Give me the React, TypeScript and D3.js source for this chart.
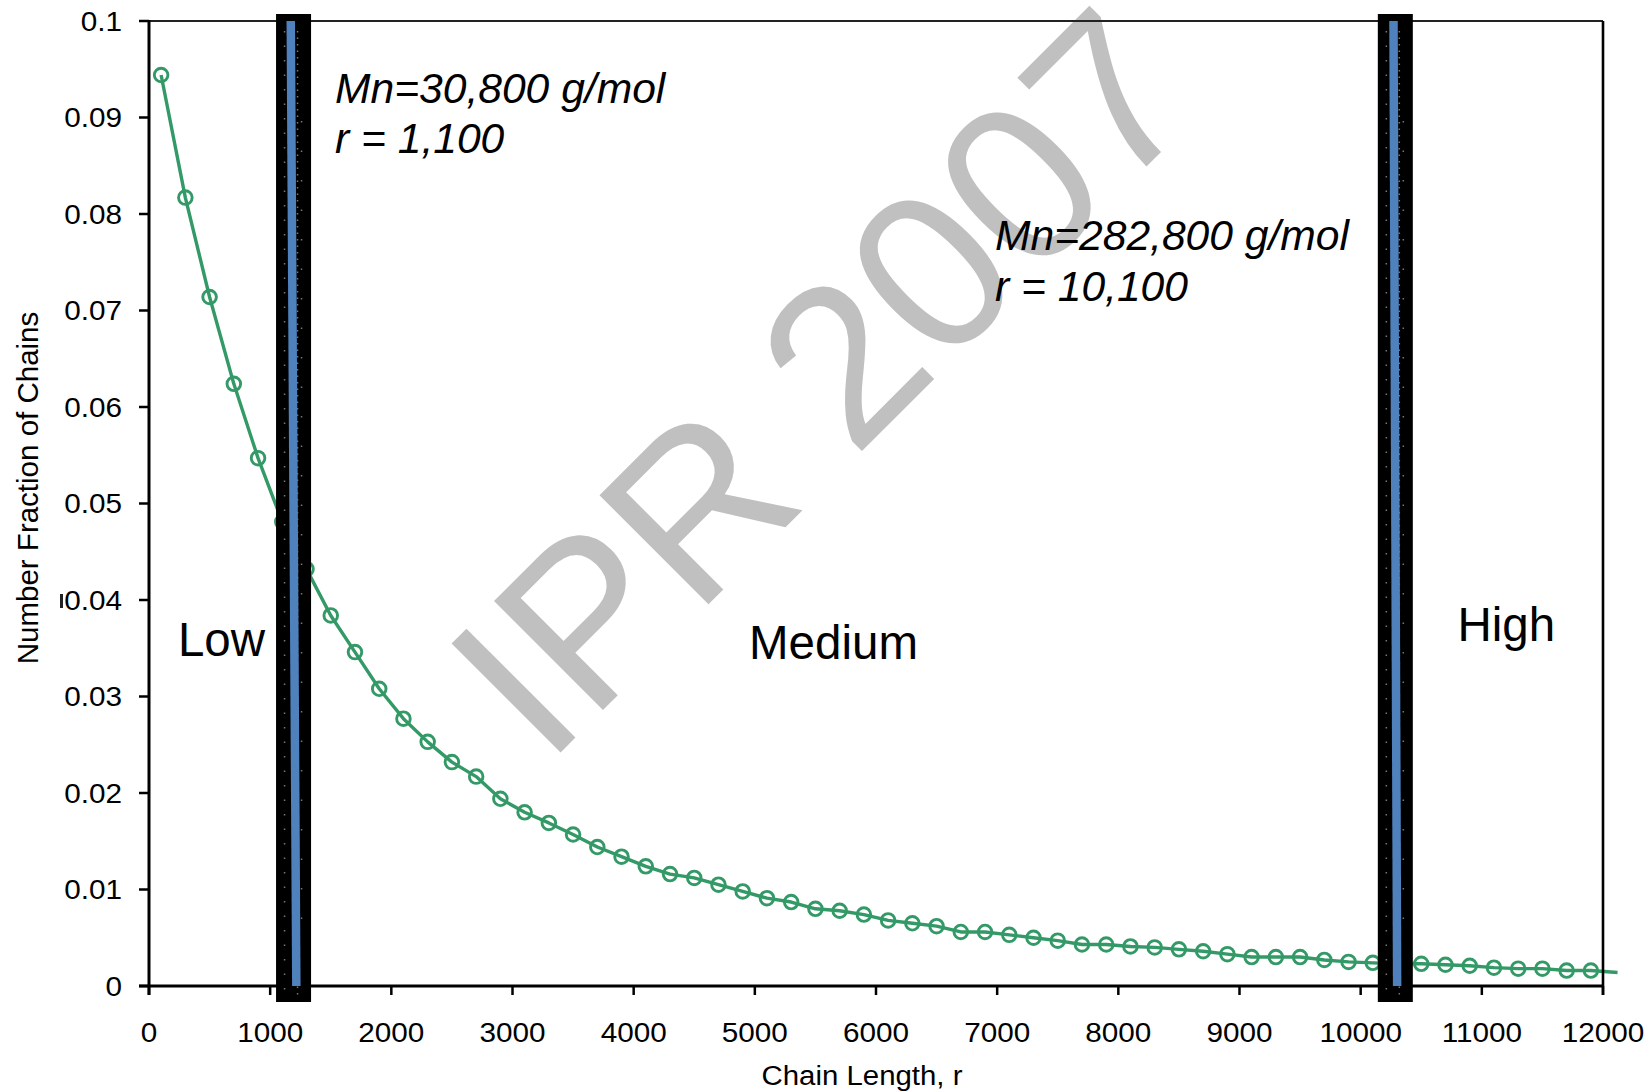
import React from 'react';
import * as d3 from 'd3';

// ---- data ----
const chainLength = [
  100, 300, 500, 700, 900, 1100, 1300, 1500, 1700, 1900,
  2100, 2300, 2500, 2700, 2900, 3100, 3300, 3500, 3700, 3900,
  4100, 4300, 4500, 4700, 4900, 5100, 5300, 5500, 5700, 5900,
  6100, 6300, 6500, 6700, 6900, 7100, 7300, 7500, 7700, 7900,
  8100, 8300, 8500, 8700, 8900, 9100, 9300, 9500, 9700, 9900,
  10100, 10300, 10500, 10700, 10900, 11100, 11300, 11500, 11700, 11900,
];
const numberFraction = [
  0.0944, 0.0817, 0.0714, 0.0624, 0.0547, 0.0481, 0.0432, 0.0384, 0.0346, 0.0308,
  0.0277, 0.0253, 0.0232, 0.0217, 0.0194, 0.0180, 0.0169, 0.0157, 0.0144, 0.0134,
  0.0124, 0.0116, 0.0112, 0.0105, 0.0098, 0.0091, 0.0087, 0.0080, 0.0078, 0.0074,
  0.0068, 0.0065, 0.0062, 0.0056, 0.0056, 0.0053, 0.0050, 0.0047, 0.0043, 0.0043,
  0.0041, 0.0040, 0.0038, 0.0036, 0.0033, 0.0030, 0.0030, 0.0030, 0.0027, 0.0025,
  0.0024, 0.0023, 0.0023, 0.0022, 0.0021, 0.0019, 0.0018, 0.0018, 0.0016, 0.0016,
];
// the line continues a little past the last marker
const lineTailR = [12120];
const lineTailF = [0.0014];

// vertical divider lines (chain length at top and at bottom of the line)
const dividerTopR = [1170, 10271];
const dividerBottomR = [1216, 10301];

const xTickValues = [0, 1000, 2000, 3000, 4000, 5000, 6000, 7000, 8000, 9000, 10000, 11000, 12000];
const yTickValues = [0, 0.01, 0.02, 0.03, 0.04, 0.05, 0.06, 0.07, 0.08, 0.09, 0.1];
const yTickLabels = ['0', '0.01', '0.02', '0.03', '0.04', '0.05', '0.06', '0.07', '0.08', '0.09', '0.1'];

const regionLabels = ['Low', 'Medium', 'High'];
const regionLabelR = [239, 4952, 10799];
const regionLabelF = [0.0342, 0.0339, 0.0358];

const annotationLines = ['Mn=30,800 g/mol', 'r = 1,100', 'Mn=282,800 g/mol', 'r = 10,100'];
const annotationR = [1535, 1535, 6982, 6982];
const annotationF = [0.0915, 0.0863, 0.07627, 0.07098];

const watermarkText = 'IPR 2007';
const watermarkR = 3276;
const watermarkF = 0.0227;

const xTitle = 'Chain Length, r';
const yTitle = 'Number Fraction of Chains';

// ---- styles ----
const W = 1650;
const H = 1092;
const FONT = "'Liberation Sans', Arial, Helvetica, sans-serif";
const GREEN = '#339966';
const BLUE = '#4f81bd';

export default function App() {
  const x = d3.scaleLinear().domain([0, 12000]).range([149, 1603]);
  const y = d3.scaleLinear().domain([0, 0.1]).range([986, 21]);

  const pts = chainLength.map((r, i) => [r, numberFraction[i]] as [number, number]);
  const linePts = pts.concat(lineTailR.map((r, i) => [r, lineTailF[i]] as [number, number]));
  const line = d3.line<[number, number]>().x(d => x(d[0])).y(d => y(d[1]));

  const x0 = x(0), x1 = x(12000), yTop = y(0.1), yBot = y(0);

  return (
    <svg width={W} height={H} style={{ position: 'absolute', left: 0, top: 0, background: '#fff' }}
      fontFamily={FONT}>
      <rect x={0} y={0} width={W} height={H} fill="#fff" />

      {/* data line + markers */}
      <path d={line(linePts) || ''} fill="none" stroke={GREEN} strokeWidth={3.4} strokeLinejoin="round" />
      {pts.map((p, i) => (
        <circle key={i} cx={x(p[0])} cy={y(p[1])} r={6.8} fill="none" stroke={GREEN} strokeWidth={2.9} />
      ))}

      {/* watermark */}
      <text transform={`translate(${x(watermarkR)},${y(watermarkF)}) rotate(-45)`}
        fontSize={224} fill="#c0c0c0">{watermarkText}</text>

      {/* frame */}
      <line x1={x0} x2={x1} y1={yTop} y2={yTop} stroke="#222" strokeWidth={1.8} />
      <line x1={x1} x2={x1} y1={yTop} y2={yBot + 9} stroke="#000" strokeWidth={2.6} />
      <line x1={x0} x2={x0} y1={yTop - 1} y2={yBot + 9} stroke="#000" strokeWidth={3} />
      <line x1={x0 - 10} x2={x1} y1={yBot} y2={yBot} stroke="#000" strokeWidth={3} />

      {/* y ticks */}
      {yTickValues.map((v, i) => (
        <g key={'y' + i}>
          <line x1={x0 - 10} x2={x0} y1={y(v)} y2={y(v)} stroke="#000" strokeWidth={2.5} />
          <text transform={`translate(${x0 - 27},${y(v) + 9.5}) scale(1.1,1)`} textAnchor="end"
            fontSize={27} fill="#000">{yTickLabels[i]}</text>
        </g>
      ))}
      {/* x ticks */}
      {xTickValues.map((v, i) => (
        <g key={'x' + i}>
          <line x1={x(v)} x2={x(v)} y1={yBot} y2={yBot + 9} stroke="#000" strokeWidth={2.5} />
          <text transform={`translate(${x(v)},${yBot + 55.5}) scale(1.1,1)`} textAnchor="middle"
            fontSize={27} fill="#000">{String(v)}</text>
        </g>
      ))}

      {/* small artifact next to 0.04 */}
      <rect x={60} y={y(0.04) - 6} width={3} height={14} fill="#222" />

      {/* dividers */}
      {dividerTopR.map((rt, i) => {
        const rb = dividerBottomR[i];
        const cx = (x(rt) + x(rb)) / 2;
        return (
          <g key={'d' + i}>
            <rect x={cx - 17.5} y={yTop - 7} width={35} height={yBot - yTop + 23} fill="#000" />
            <line x1={cx - 9} x2={cx - 9} y1={yTop + 10} y2={yBot + 12} stroke="#777" strokeWidth={1.5}
              strokeDasharray="1.5 13" />
            <line x1={cx + 4} x2={cx + 4} y1={yTop + 10} y2={yBot + 12} stroke="#777" strokeWidth={1.5}
              strokeDasharray="1.5 5" />
            <line x1={cx + 8} x2={cx + 8} y1={yTop + 100} y2={yBot - 50} stroke="#777" strokeWidth={1.5}
              strokeDasharray="1.5 28" />
            <line x1={x(rt)} x2={x(rb)} y1={y(0.1)} y2={y(0)} stroke={BLUE} strokeWidth={8.5} />
          </g>
        );
      })}

      {/* region labels */}
      {regionLabels.map((t, i) => (
        <text key={'r' + i} x={x(regionLabelR[i])} y={y(regionLabelF[i])} fontSize={47.5} fill="#000">{t}</text>
      ))}

      {/* annotations */}
      {annotationLines.map((t, i) => (
        <text key={'a' + i} x={x(annotationR[i])} y={y(annotationF[i])} fontSize={42.6}
          fontStyle="italic" fill="#000">{t}</text>
      ))}

      {/* axis titles */}
      <text transform={`translate(862,1085) scale(1.05,1)`} textAnchor="middle" fontSize={28} fill="#000">{xTitle}</text>
      <text transform={`translate(38,488) rotate(-90)`} textAnchor="middle" fontSize={29.5} fill="#000">{yTitle}</text>
    </svg>
  );
}
